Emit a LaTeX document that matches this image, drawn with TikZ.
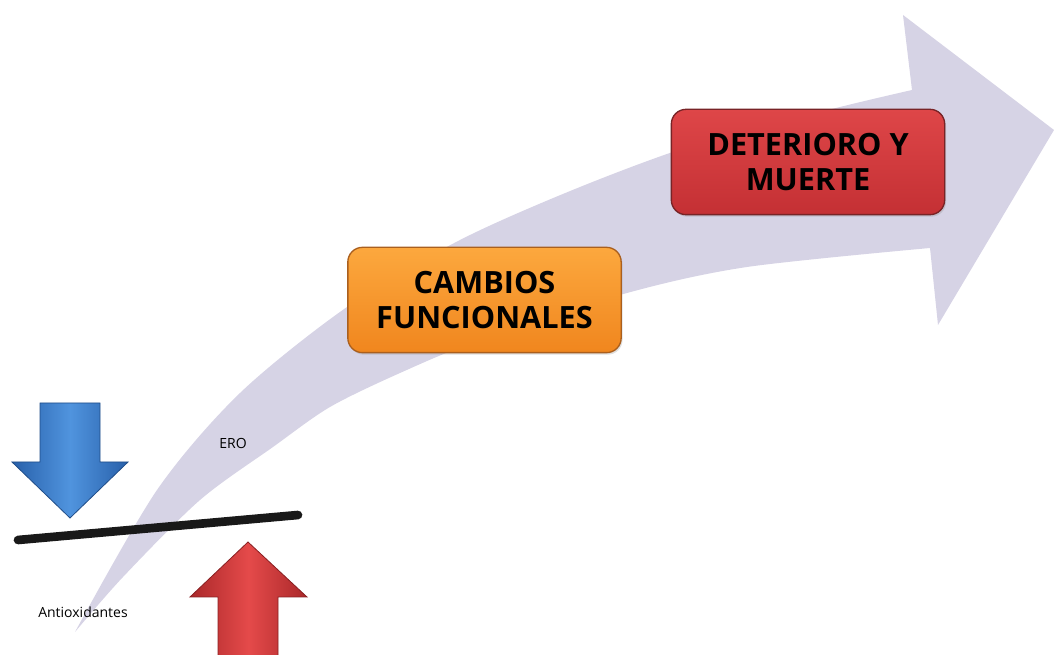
\documentclass[tikz,border=0pt]{standalone}
\usepackage{fontspec}
\setmainfont{Open Sans}
\usepackage{tikz}
\usetikzlibrary{calc}
\usetikzlibrary{shadows}

\definecolor{bandgray}{RGB}{214,211,229}
\definecolor{orangetop}{RGB}{252,168,62}
\definecolor{orangebot}{RGB}{240,134,30}
\definecolor{orangeline}{RGB}{170,95,30}
\definecolor{redtop}{RGB}{222,70,72}
\definecolor{redbot}{RGB}{196,48,52}
\definecolor{redline}{RGB}{120,35,38}
\definecolor{bluemid}{RGB}{80,148,222}
\definecolor{blueedge}{RGB}{40,96,170}
\definecolor{redmid}{RGB}{228,74,74}
\definecolor{rededge}{RGB}{170,40,42}

\begin{document}
\begin{tikzpicture}[x=0.75pt,y=-0.75pt,
    stagebox/.style={draw=#1line, line width=1pt, rounded corners=11pt,
        top color=#1top, bottom color=#1bot,
        drop shadow={opacity=0.25, shadow xshift=1pt, shadow yshift=-1.5pt},
        minimum width=205pt, minimum height=79pt, align=center,
        font=\bfseries\fontsize{23}{26.5}\selectfont},
    smalltext/.style={font=\fontsize{10.5}{12}\selectfont}]
    \useasboundingbox (0,0) rectangle (1054,655);

    % the big curved arrow behind everything
    \fill[bandgray] plot[smooth] coordinates {(75,632) (157,490) (240,393) (347,307)
            (460,240) (580,187) (700,143) (840,107) (912,90)}
        -- (903,15) -- (1054,130) -- (938,325) -- (930,248)
        -- plot[smooth] coordinates {(930,248) (747,267) (627,293) (480,340)
            (400,373) (330,407) (273,447) (200,500) (123,577) (75,632)}
        -- cycle;

    \node[stagebox=orange] (cambios) at (484.5,300) {CAMBIOS\\FUNCIONALES};
    \node[stagebox=red] (muerte) at (808,162) {DETERIORO Y\\MUERTE};

    % balance: antioxidants down, ERO up
    \draw[line width=6.5pt, black!90, line cap=round] (18,540) -- (298,515);
    \shade[left color=blueedge, right color=blueedge, middle color=bluemid, draw=blueedge!80!black, line width=0.6pt]
        (40,403) -- (100,403) -- (100,462) -- (128,462) -- (70,518) -- (12,462) -- (40,462) -- cycle;
    \shade[left color=rededge, right color=rededge, middle color=redmid, draw=rededge!80!black, line width=0.6pt]
        (218,656) -- (218,597) -- (190,597) -- (248,542) -- (307,597) -- (278,597) -- (278,656) -- cycle;

    \node[smalltext] (ero) at (233,443) {ERO};
    \node[smalltext] (antiox) at (83,612) {Antioxidantes};
\end{tikzpicture}
\end{document}
